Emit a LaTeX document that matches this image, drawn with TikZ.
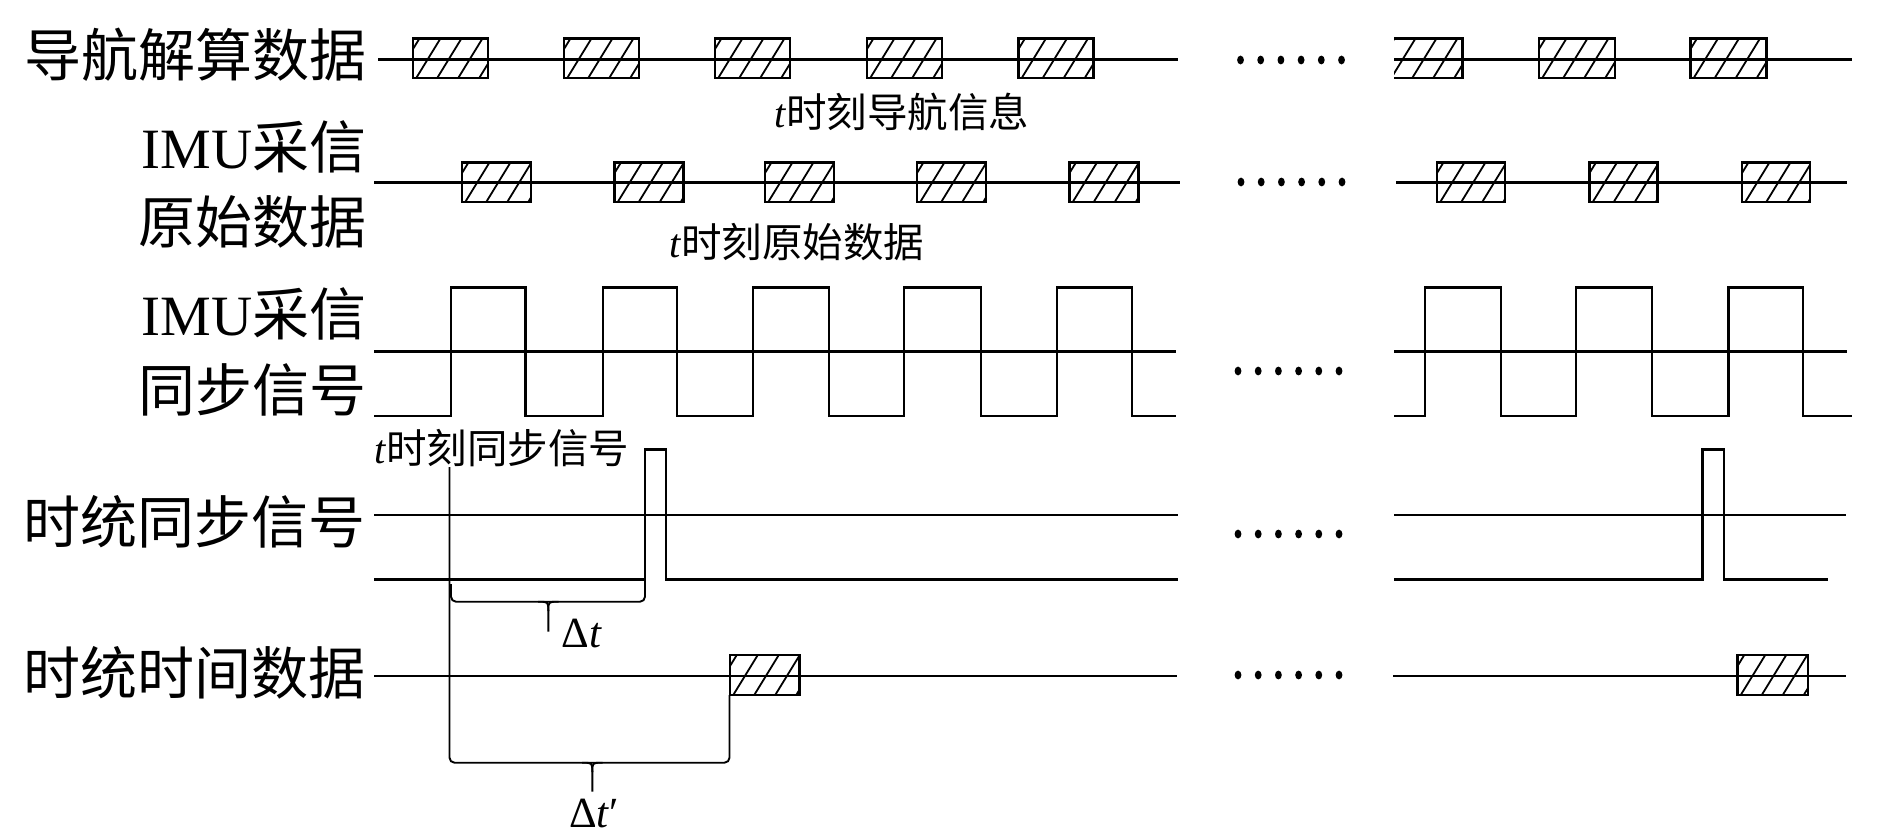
\documentclass[tikz,border=0pt]{standalone}
\usepackage{fontspec}
\setmainfont{Liberation Serif}
\newfontfamily\cjk{Noto Sans CJK SC}
\begin{document}
\begin{tikzpicture}[x=1pt,y=-1pt,
  sig/.style={line width=2.9pt, line join=miter},
  boxline/.style={line width=2.9pt},
  hatch/.style={line width=1.8pt},
  brace/.style={line width=1.9pt, rounded corners=5pt},
  big/.style={inner sep=0pt, font=\fontsize{57}{60}\selectfont},
  small/.style={inner sep=0pt, font=\fontsize{40.5}{44}\selectfont}]
\useasboundingbox[fill=white] (0,0) rectangle (1890,837);

% hatched box: x1,y1,x2,y2
\newcommand{\hbx}[4]{%
  \begin{scope}\clip (#1,#2) rectangle (#3,#4);
    \foreach \i in {-1,0,1,2,3}{\draw[hatch] ({#1+2+\i*21},{#4+2}) -- ++(27,-44);}
  \end{scope}
  \draw[boxline] (#1,#2) rectangle (#3,#4);}
% six dots
\newcommand{\sixdots}[2]{%
  \foreach \j in {0,...,5}{\fill ({#1+\j*20.2},#2) ellipse[x radius=3.4, y radius=4.4];}}

% ---------- labels ----------
\node[big,anchor=east] (l1) at (367,55) {\cjk 导航解算数据};
\node[big,anchor=east] (l2a) at (367,147) {IMU\cjk 采信};
\node[big,anchor=east] (l2b) at (367,222) {\cjk 原始数据};
\node[big,anchor=east] (l3a) at (367,314) {IMU\cjk 采信};
\node[big,anchor=east] (l3b) at (367,390) {\cjk 同步信号};
\node[big,anchor=east] (l4) at (366,522) {\cjk 时统同步信号};
\node[big,anchor=east] (l5) at (366,673) {\cjk 时统时间数据};

\node[small,anchor=west] (s1) at (774,112) {\textit{t}\cjk 时刻导航信息};
\node[small,anchor=west] (s2) at (669,242) {\textit{t}\cjk 时刻原始数据};
\node[small,anchor=west] (s3) at (374,448) {\textit{t}\cjk 时刻同步信号};
\node[small,font=\fontsize{43}{46}\selectfont] (dt) at (582,634) {Δ\textit{t}};
\node[small,font=\fontsize{43}{46}\selectfont] (dt2) at (594,814) {Δ\textit{t}′};

% ---------- row 1 ----------
\draw[sig] (378,59.3) -- (1178,59.3);
\draw[sig] (1394,59.3) -- (1852,59.3);
\foreach \x in {413,564,715,867,1018.5}{\hbx{\x}{38.5}{\x+75}{78}}
\foreach \x in {1539,1690.5}{\hbx{\x}{38.5}{\x+76}{78}}
\begin{scope}\clip (1394,38.5) rectangle (1462.5,78);
  \foreach \i in {-1,0,1,2,3}{\draw[hatch] ({1390+\i*21},80) -- ++(27,-44);}
\end{scope}
\draw[boxline] (1394,38.5) -- (1462.5,38.5) -- (1462.5,78) -- (1394,78);
\sixdots{1240.5}{60}

% ---------- row 2 ----------
\draw[sig] (374,182.5) -- (1180,182.5);
\draw[sig] (1396,182.5) -- (1847,182.5);
\foreach \x in {462,614.5,765,917,1069.5}{\hbx{\x}{162.5}{\x+69}{202}}
\foreach \x in {1437,1589.5,1742}{\hbx{\x}{162.5}{\x+68}{202}}
\sixdots{1241}{182}

% ---------- row 3 ----------
\draw[sig] (374,351.7) -- (1176,351.7);
\draw[sig] (1394,351.7) -- (1847,351.7);
\draw[sig] (374,416) -- (451,416) -- (451,287.3) -- (525.5,287.3) -- (525.5,416)
  -- (603,416) -- (603,287.3) -- (677,287.3) -- (677,416)
  -- (753,416) -- (753,287.3) -- (829,287.3) -- (829,416)
  -- (904,416) -- (904,287.3) -- (981,287.3) -- (981,416)
  -- (1057,416) -- (1057,287.3) -- (1132,287.3) -- (1132,416) -- (1176,416);
\draw[sig] (1394,416) -- (1425,416) -- (1425,287.3) -- (1501,287.3) -- (1501,416)
  -- (1576,416) -- (1576,287.3) -- (1652,287.3) -- (1652,416)
  -- (1728.5,416) -- (1728.5,287.3) -- (1803,287.3) -- (1803,416) -- (1852,416);
\sixdots{1238}{371}

% ---------- row 4 ----------
\draw[sig] (374,515) -- (1178,515);
\draw[sig] (1394,515) -- (1846,515);
\draw[sig] (374,579.3) -- (645,579.3) -- (645,449.3) -- (666,449.3) -- (666,579.3) -- (1178,579.3);
\draw[sig] (1394,579.3) -- (1702.6,579.3) -- (1702.6,449.3) -- (1724,449.3) -- (1724,579.3) -- (1828,579.3);
\sixdots{1238}{534}

% ---------- row 5 ----------
\draw[sig] (374,676) -- (1177,676);
\draw[sig] (1393,676) -- (1846,676);
\hbx{730}{655}{799.5}{695}
\hbx{1737.5}{655}{1808}{695}
\sixdots{1238}{675}

% ---------- braces ----------
\coordinate (bt) at (449.5,467);
\draw[brace] (bt) -- (449.5,762.7) -- (729.5,762.7) -- (729.5,695);
\draw[brace] (451,584) -- (451,601.7) -- (645,601.7) -- (645,580);
\draw[line width=1.9pt] (538,601.7) .. controls (548.3,601.7) .. (548.3,611) -- (548.3,631.7);
\draw[line width=1.9pt] (558.6,601.7) .. controls (548.3,601.7) .. (548.3,611);
\draw[line width=1.9pt] (582,762.7) .. controls (592.3,762.7) .. (592.3,772) -- (592.3,791.7);
\draw[line width=1.9pt] (602.6,762.7) .. controls (592.3,762.7) .. (592.3,772);
\end{tikzpicture}
\end{document}
